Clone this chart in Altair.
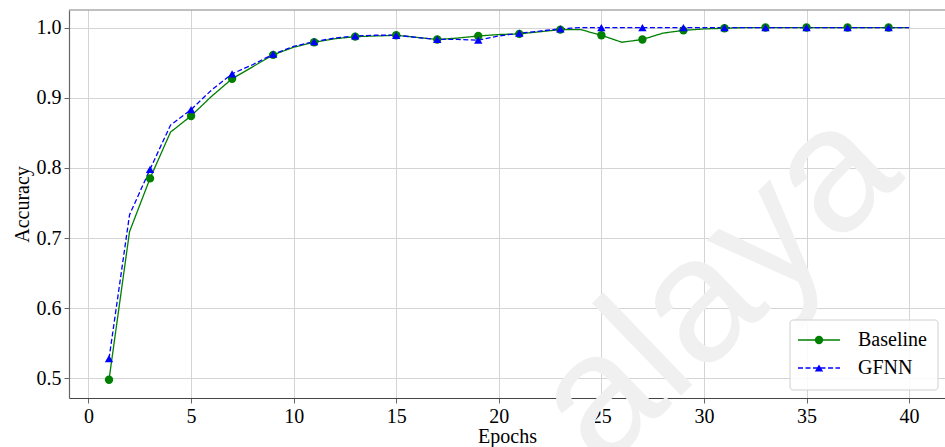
import altair as alt
import pandas as pd

# Accuracy per training epoch for the two models
epochs = list(range(1, 41))
baseline = [0.498, 0.709, 0.785, 0.851, 0.874, 0.902, 0.927, 0.944, 0.961, 0.972,
            0.979, 0.984, 0.987, 0.988, 0.989, 0.986, 0.983, 0.985, 0.988, 0.990,
            0.991, 0.994, 0.997, 0.997, 0.989, 0.979, 0.983, 0.992, 0.996, 0.998,
            0.999, 1.000, 1.000, 1.000, 1.000, 1.000, 1.000, 1.000, 1.000, 1.000]
gfnn = [0.528, 0.733, 0.798, 0.861, 0.883, 0.911, 0.934, 0.947, 0.962, 0.973,
        0.980, 0.985, 0.988, 0.989, 0.989, 0.986, 0.983, 0.983, 0.982, 0.988,
        0.992, 0.995, 0.998, 1.000, 1.000, 1.000, 1.000, 1.000, 1.000, 1.000,
        1.000, 1.000, 1.000, 1.000, 1.000, 1.000, 1.000, 1.000, 1.000, 1.000]
series_names = ["Baseline", "GFNN"]
series_colors = ["#008000", "#0000ff"]
x_ticks = [0, 5, 10, 15, 20, 25, 30, 35, 40]
y_ticks = [0.5, 0.6, 0.7, 0.8, 0.9, 1.0]

rows = []
for e, b, g in zip(epochs, baseline, gfnn):
    rows.append({"epoch": e, "acc": b, "model": "Baseline"})
    rows.append({"epoch": e, "acc": g, "model": "GFNN"})
df = pd.DataFrame(rows)

W, H = 876, 388
SERIF = "Liberation Serif"

x_enc = alt.X("epoch:Q", title="Epochs",
              scale=alt.Scale(domain=[-0.95, 41.75], nice=False, zero=False),
              axis=alt.Axis(values=x_ticks, format="d", titlePadding=0))
y_enc = alt.Y("acc:Q", title="Accuracy",
              scale=alt.Scale(domain=[0.472, 1.025], nice=False, zero=False),
              axis=alt.Axis(values=y_ticks, format=".1f", titlePadding=4))
color_enc = alt.Color("model:N", scale=alt.Scale(domain=series_names, range=series_colors), legend=None)

one = alt.Data(values=[{}])

# faint diagonal watermark behind the curves
watermark = alt.Chart(one).mark_text(
    text="alaya", font="Liberation Sans", fontSize=177, angle=316,
    color="#f0f0f0", align="center", baseline="middle"
).encode(x=alt.value(648), y=alt.value(277))

lines = alt.Chart(df).mark_line(strokeWidth=1.3).encode(
    x=x_enc, y=y_enc, color=color_enc,
    strokeDash=alt.StrokeDash("model:N",
                              scale=alt.Scale(domain=series_names, range=[[1, 0], [5, 2.5]]),
                              legend=None),
)

# markers on every second epoch
points = alt.Chart(df).transform_filter("datum.epoch % 2 == 1").mark_point(
    filled=True, opacity=1, size=70
).encode(
    x=x_enc, y=y_enc, color=color_enc,
    shape=alt.Shape("model:N", scale=alt.Scale(domain=series_names, range=["circle", "triangle-up"]),
                    legend=None),
)

top_spine = alt.Chart(one).mark_rule(color="#808080", strokeWidth=1).encode(
    x=alt.value(0), x2=alt.value(W), y=alt.value(0)
)

# legend box in the lower right corner
lx0, ly0 = 721, 310
legend_box = alt.Chart(one).mark_rect(
    fill="white", fillOpacity=0.85, stroke="#d0d0d0", strokeWidth=1, cornerRadius=3
).encode(x=alt.value(lx0), x2=alt.value(lx0 + 148), y=alt.value(ly0), y2=alt.value(ly0 + 70))

legend_layers = []
for i, (name, col) in enumerate(zip(series_names, series_colors)):
    yy = ly0 + 20 + i * 28
    dash = [1, 0] if i == 0 else [5, 2.5]
    legend_layers.append(alt.Chart(one).mark_rule(color=col, strokeWidth=1.3, strokeDash=dash).encode(
        x=alt.value(lx0 + 8), x2=alt.value(lx0 + 50), y=alt.value(yy)))
    legend_layers.append(alt.Chart(one).mark_point(
        filled=True, opacity=1, size=70, color=col,
        shape="circle" if i == 0 else "triangle-up").encode(
        x=alt.value(lx0 + 29), y=alt.value(yy)))
    legend_layers.append(alt.Chart(one).mark_text(
        text=name, font=SERIF, fontSize=20, color="#000000", align="left", baseline="middle").encode(
        x=alt.value(lx0 + 68), y=alt.value(yy)))

chart = alt.layer(
    watermark, lines, points, top_spine, legend_box, *legend_layers
).properties(
    width=W, height=H,
    autosize=alt.AutoSizeParams(type="none"),
    padding={"left": 69, "top": 10, "right": 0, "bottom": 49},
).configure_view(
    stroke=None
).configure_axis(
    labelFont=SERIF, labelFontSize=20, labelColor="#000000",
    titleFont=SERIF, titleFontSize=20, titleFontWeight="normal", titleColor="#000000",
    gridColor="#d4d4d4", gridWidth=1,
    domainColor="#666666", domainWidth=1.2,
    tickColor="#666666", tickSize=5, labelPadding=3,
).configure_axisX(
    domainColor="#444444"
)

chart.save("out.html", embed_options={"renderer": "svg", "actions": False})
